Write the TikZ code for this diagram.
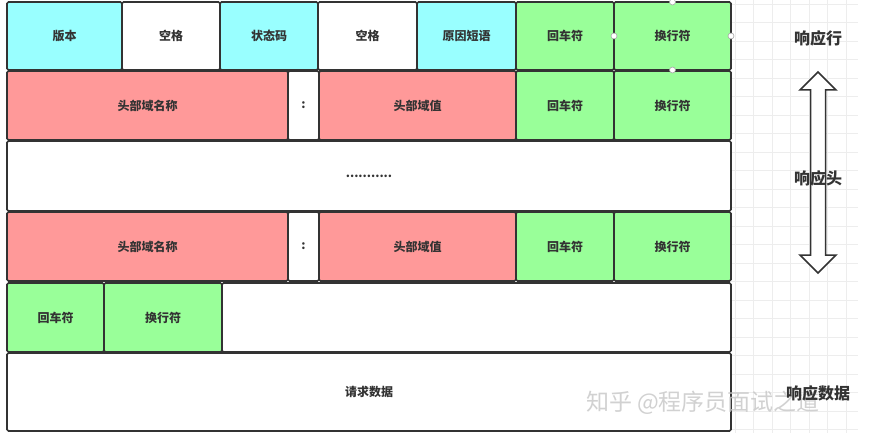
\documentclass[tikz,border=0pt]{standalone}
\usepackage{fontspec}
\newfontfamily\cjk{Noto Sans CJK SC}
\definecolor{cyanfill}{HTML}{99FFFF}
\definecolor{redfill}{HTML}{FF9999}
\definecolor{greenfill}{HTML}{99FF99}
\definecolor{edge}{HTML}{333333}
\definecolor{gridc}{HTML}{EDEDED}
\tikzset{
  x=1pt, y=-1pt,
  cell/.style={draw=edge, line width=1.6pt, rounded corners=1.5pt, inner sep=0pt, outer sep=0pt,
    anchor=north west, text=edge, font=\cjk\bfseries\fontsize{12}{14}\selectfont},
  cy/.style={cell, fill=cyanfill},
  rd/.style={cell, fill=redfill},
  gr/.style={cell, fill=greenfill},
  wh/.style={cell, fill=white},
  heading/.style={text=edge, font=\cjk\bfseries\fontsize{16}{18}\selectfont, inner sep=0pt},
  handle/.style={circle, draw=gray!70, fill=white, line width=0.6pt, inner sep=0pt, minimum size=6pt},
  gridline/.style={draw=gridc, line width=0.5pt},
  bigarrow/.style={draw=edge, fill=white, line width=1.5pt, line join=miter}
}
\newcommand{\mkcell}[7]{%
  \pgfmathsetmacro{\cw}{#4-#2}\pgfmathsetmacro{\ch}{#5-#3}%
  \node[#6, minimum width=\cw pt, minimum height=\ch pt] (#1) at (#2,#3) {#7};}
\begin{document}
\begin{tikzpicture}
\useasboundingbox (0,0) rectangle (870,433);
\fill[white] (0,0) rectangle (870,433);
% grid on the right
\foreach \gx in {735,753.5,772,790.5,809,827.5,846} \draw[gridline] (\gx,0) -- (\gx,433);
\foreach \gy in {4,22.5,41,59.5,78,96.5,115,133.5,152,170.5,189,207.5,226,244.5,263,281.5,300,318.5,337,355.5,374,392.5,411,429.5} \draw[gridline] (731,\gy) -- (858,\gy);
% row 1
\mkcell{r1a}{7}{2}{122}{70}{cy}{版本}
\mkcell{r1b}{122}{2}{220}{70}{wh}{空格}
\mkcell{r1c}{220}{2}{318}{70}{cy}{状态码}
\mkcell{r1d}{318}{2}{417}{70}{wh}{空格}
\mkcell{r1e}{417}{2}{516}{70}{cy}{原因短语}
\mkcell{r1f}{516}{2}{614}{70}{gr}{回车符}
\mkcell{r1g}{614}{2}{731}{70}{gr}{换行符}
% row 2
\mkcell{r2a}{7}{71}{288}{140}{rd}{头部域名称}
\mkcell{r2b}{288}{71}{319}{140}{wh}{:}
\mkcell{r2c}{319}{71}{516}{140}{rd}{头部域值}
\mkcell{r2d}{516}{71}{614}{140}{gr}{回车符}
\mkcell{r2e}{614}{71}{731}{140}{gr}{换行符}
% row 3
\mkcell{r3}{7}{141}{731}{211}{wh}{...........}
% row 4
\mkcell{r4a}{7}{212}{288}{281}{rd}{头部域名称}
\mkcell{r4b}{288}{212}{319}{281}{wh}{:}
\mkcell{r4c}{319}{212}{516}{281}{rd}{头部域值}
\mkcell{r4d}{516}{212}{614}{281}{gr}{回车符}
\mkcell{r4e}{614}{212}{731}{281}{gr}{换行符}
% row 5
\mkcell{r5a}{7}{283}{104}{352}{gr}{回车符}
\mkcell{r5b}{104}{283}{222}{352}{gr}{换行符}
\mkcell{r5c}{222}{283}{731}{352}{wh}{}
% row 6
\mkcell{r6}{7}{353}{731}{431}{wh}{请求数据}
% watermark
\node[text=gray!45, opacity=0.8, font=\cjk\fontsize{23}{25}\selectfont, inner sep=0pt] (wm) at (703,403) {知乎 @程序员面试之道};
% selection handles
\node[handle] (h1) at (r1g.west) {};
\node[handle] (h2) at (r1g.east) {};
\node[handle] (h3) at (r1g.north) {};
\node[handle] (h4) at (r1g.south) {};
% double arrow
\draw[bigarrow] (818,72) -- (836,90) -- (825.5,90) -- (825.5,255) -- (836,255) -- (818,273)
  -- (800,255) -- (810.5,255) -- (810.5,90) -- (800,90) -- cycle;
% headings
\node[heading] (hl) at (818,38) {响应行};
\node[heading] (hh) at (818,178) {响应头};
\node[heading] (hd) at (818,393) {响应数据};
\end{tikzpicture}
\end{document}
